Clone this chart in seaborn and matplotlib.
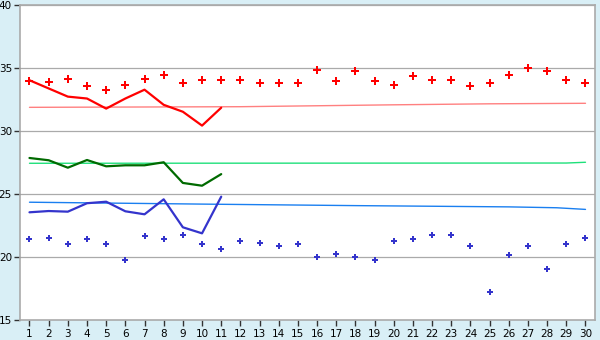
import numpy as np
import pandas as pd
import matplotlib
matplotlib.use("Agg")
import matplotlib.pyplot as plt
import seaborn as sns

days = list(range(1, 31))
tick_labels = [str(d) for d in days]

# scatter series (30 days)
red_points = [34.0, 33.95, 34.13, 33.57, 33.25, 33.65, 34.13, 34.44, 33.8, 34.05,
              34.05, 34.05, 33.8, 33.8, 33.8, 34.84, 33.97, 34.76, 33.97, 33.65,
              34.37, 34.05, 34.05, 33.57, 33.8, 34.44, 35.0, 34.76, 34.05, 33.8]
blue_points = [21.43, 21.5, 21.03, 21.43, 21.03, 19.76, 21.67, 21.43, 21.75, 21.03,
               20.63, 21.27, 21.11, 20.87, 21.03, 20.0, 20.24, 20.0, 19.76, 21.27,
               21.43, 21.75, 21.75, 20.87, 17.22, 20.16, 20.87, 19.05, 21.03, 21.5]

# line series (days 1-11)
line_days = list(range(1, 12))
red_line = [34.05, 33.4, 32.75, 32.6, 31.8, 32.6, 33.3, 32.1, 31.55, 30.45, 31.87]
green_line = [27.88, 27.7, 27.11, 27.72, 27.22, 27.3, 27.3, 27.54, 25.9, 25.68, 26.6]
blue_line = [23.57, 23.67, 23.62, 24.29, 24.41, 23.65, 23.41, 24.6, 22.38, 21.9, 24.81]

# thin trend lines (anchor days and values)
red_trend_days = [1, 12, 20, 25, 30]
red_trend = [31.9, 31.95, 32.1, 32.18, 32.22]
green_trend_days = [1, 29, 30]
green_trend = [27.46, 27.48, 27.54]
blue_trend_days = [1, 10, 18, 26, 28.5, 30]
blue_trend = [24.37, 24.22, 24.1, 24.0, 23.93, 23.8]

sns.set_theme(style="white")
plt.rcParams['font.family'] = ['DejaVu Sans']

fig = plt.figure(figsize=(6.0, 3.4), dpi=100, facecolor="#d9eff6")
ax = fig.add_axes([0.0338, 0.058, 0.958, 0.9265])
ax.set_facecolor("white")

# gridlines
for v in [20, 25, 30, 35, 40]:
    ax.axhline(v, color="#aaaaaa", lw=0.9, zorder=0)

df_rp = pd.DataFrame({"day": days, "v": red_points})
df_bp = pd.DataFrame({"day": days, "v": blue_points})
df_rl = pd.DataFrame({"day": line_days, "v": red_line})
df_gl = pd.DataFrame({"day": line_days, "v": green_line})
df_bl = pd.DataFrame({"day": line_days, "v": blue_line})
df_rt = pd.DataFrame({"day": red_trend_days, "v": red_trend})
df_gt = pd.DataFrame({"day": green_trend_days, "v": green_trend})
df_bt = pd.DataFrame({"day": blue_trend_days, "v": blue_trend})

sns.lineplot(data=df_rt, x="day", y="v", ax=ax, color="#ff8080", lw=1.0, zorder=2)
sns.lineplot(data=df_gt, x="day", y="v", ax=ax, color="#1ee07a", lw=1.0, zorder=2)
sns.lineplot(data=df_bt, x="day", y="v", ax=ax, color="#1a7ff0", lw=1.0, zorder=2)

sns.lineplot(data=df_rl, x="day", y="v", ax=ax, color="#ff0000", lw=1.6, zorder=3)
sns.lineplot(data=df_gl, x="day", y="v", ax=ax, color="#006a00", lw=1.6, zorder=3)
sns.lineplot(data=df_bl, x="day", y="v", ax=ax, color="#3434cc", lw=1.6, zorder=3)

sns.scatterplot(data=df_rp, x="day", y="v", ax=ax, color="#ff0000", marker="P",
                s=26, linewidth=0, zorder=4)
sns.scatterplot(data=df_bp, x="day", y="v", ax=ax, color="#3434cc", marker="P",
                s=24, linewidth=0, zorder=4)

ax.set_xlim(0.52, 30.5)
ax.set_ylim(15, 40)
ax.set_xticks(days)
ax.set_xticklabels(tick_labels)
ax.set_yticks([15, 20, 25, 30, 35, 40])
ax.set_yticklabels(["15", "20", "25", "30", "35", "40"])
ax.set_xlabel("")
ax.set_ylabel("")
ax.tick_params(axis="both", which="both", direction="out", length=4, width=1,
               color="#333333", labelsize=7.5, labelcolor="#000000", pad=2,
               left=True, bottom=True)
for s in ax.spines.values():
    s.set_color("#aaaaaa")
    s.set_linewidth(1.2)

fig.savefig("out.png", dpi=100, facecolor=fig.get_facecolor())
